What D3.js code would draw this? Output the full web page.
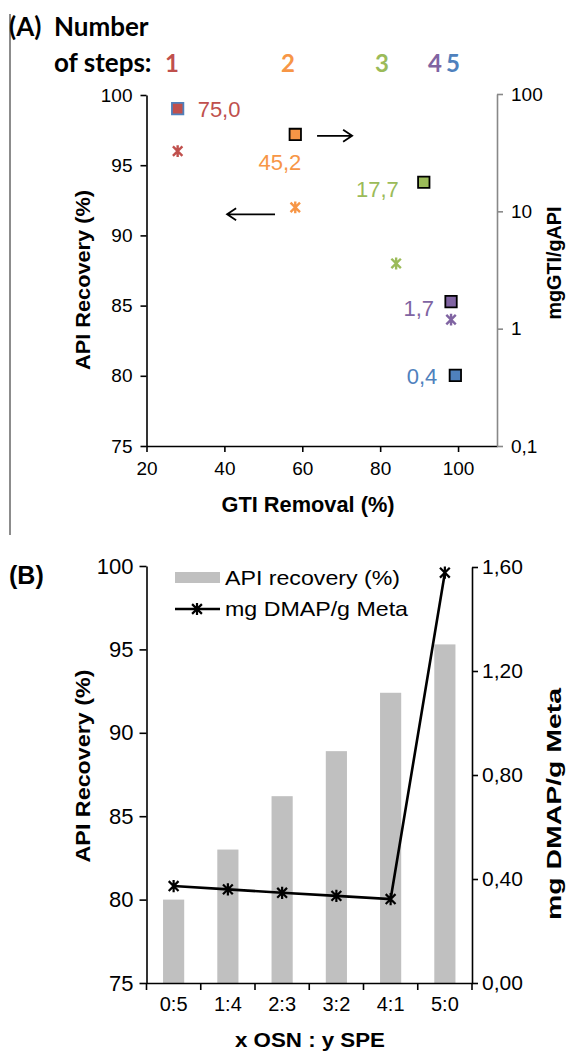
<!DOCTYPE html>
<html><head><meta charset="utf-8">
<script src="https://cdn.jsdelivr.net/npm/d3@7"></script>
<style>body{margin:0;background:#fff}svg{display:block}</style>
</head><body><svg id="c" width="568" height="1054"></svg>
<script>
// ---------- DATA (panel A) ----------
const steps = ["1","2","3","4","5"];
const stepColors = ["#c0504d","#f79646","#9bbb59","#8064a2","#4f81bd"];
const gtiRemovalRecovery = [28, 58.2, 84.1, 98.2, 99.3];   // x of star markers
const apiRecoveryA = [96, 92, 88, 84, 80];                 // left axis
const gtiRemovalLoad = [28, 58.2, 91.2, 98.2, 99.3];       // x of square markers
const mgGtiPerGApi = [75.0, 45.2, 17.7, 1.7, 0.4];         // right (log) axis
const mgGtiLabels = ["75,0","45,2","17,7","1,7","0,4"];
const xTicksA = [20,40,60,80,100];
const yTicksA = [75,80,85,90,95,100];
const yRightTicksA = [0.1,1,10,100];
const yRightTickLabelsA = ["0,1","1","10","100"];

// ---------- DATA (panel B) ----------
const ratios = ["0:5","1:4","2:3","3:2","4:1","5:0"];
const apiRecoveryB = [80.0, 83.0, 86.2, 88.9, 92.4, 95.3];
const mgDmapPerGMeta = [0.373, 0.360, 0.347, 0.335, 0.323, 1.578];
const yTicksB = [75,80,85,90,95,100];
const yRightTicksB = [0,0.4,0.8,1.2,1.6];
const yRightTickLabelsB = ["0,00","0,40","0,80","1,20","1,60"];

// ---------- DRAW ----------
const svg = d3.select("#c");
const AR = "'Liberation Sans', Arial, sans-serif";
const HDR = "Lato, 'Open Sans', sans-serif";

const starSym = { draw(ctx, size){ const r=Math.sqrt(size)/2, d=r*0.8;
  ctx.moveTo(0,-r); ctx.lineTo(0,r); ctx.moveTo(-d,-d); ctx.lineTo(d,d); ctx.moveTo(-d,d); ctx.lineTo(d,-d);} };

function styleAxis(g, color, fs){
  g.select(".domain").attr("stroke", color).attr("stroke-width", 1.6);
  g.selectAll(".tick line").attr("stroke", color).attr("stroke-width", 1.6);
  g.selectAll(".tick text").attr("fill","#000").style("font-family", AR).style("font-size", fs+"px");
}

// left border line
svg.append("line").attr("x1",10).attr("x2",10).attr("y1",14).attr("y2",535)
  .attr("stroke","#666").attr("stroke-width",1.5);

// header
svg.append("text").attr("x",9).attr("y",36).text("(A)")
  .style("font-family",HDR).style("font-weight","bold").style("font-size","26px");
svg.append("text").attr("x",54).attr("y",36).text("Number")
  .style("font-family",HDR).style("font-weight","bold").style("font-size","26px");
svg.append("text").attr("x",54).attr("y",72).text("of steps:")
  .style("font-family",HDR).style("font-weight","bold").style("font-size","26px");
const headerX = [172,288,382,435,453];
svg.selectAll(".hd").data(steps).join("text").attr("class","hd")
  .attr("x",(d,i)=>headerX[i]).attr("y",72).attr("text-anchor","middle")
  .attr("fill",(d,i)=>stepColors[i]).text(d=>d)
  .style("font-family",HDR).style("font-weight","bold").style("font-size","24px");

// scales A
const xA = d3.scaleLinear().domain([20,110]).range([146.5,497]);
const yAL = d3.scaleLinear().domain([75,100]).range([446,95]);
const yAR = d3.scaleLog().domain([0.1,100]).range([446,94]);

const gxA = svg.append("g").attr("transform","translate(0,446)")
  .call(d3.axisBottom(xA).tickValues(xTicksA).tickSize(6).tickSizeOuter(0).tickPadding(10));
styleAxis(gxA,"#000",19);
const gyAL = svg.append("g").attr("transform","translate(146.5,0)")
  .call(d3.axisLeft(yAL).tickValues(yTicksA).tickSize(6).tickSizeOuter(0).tickPadding(8));
styleAxis(gyAL,"#000",19);
const gyAR = svg.append("g").attr("transform","translate(497,0)")
  .call(d3.axisRight(yAR).tickValues(yRightTicksA).tickSize(6).tickSizeOuter(0).tickPadding(8)
    .tickFormat((d,i)=>yRightTickLabelsA[i]));
styleAxis(gyAR,"#888",19);

// axis titles A
svg.append("text").attr("transform","translate(90,280) rotate(-90)").attr("text-anchor","middle")
  .text("API Recovery (%)").attr("textLength",180).attr("lengthAdjust","spacingAndGlyphs")
  .style("font-family",AR).style("font-weight","bold").style("font-size","20px");
svg.append("text").attr("transform","translate(561,263) rotate(-90)").attr("text-anchor","middle")
  .text("mgGTI/gAPI").attr("textLength",113).attr("lengthAdjust","spacingAndGlyphs")
  .style("font-family",AR).style("font-weight","bold").style("font-size","20px");
svg.append("text").attr("x",308).attr("y",512).attr("text-anchor","middle")
  .text("GTI Removal (%)").attr("textLength",173).attr("lengthAdjust","spacingAndGlyphs")
  .style("font-family",AR).style("font-weight","bold").style("font-size","22px");

// stars (left axis)
const idx = d3.range(steps.length);
svg.selectAll(".starA").data(idx).join("path").attr("class","starA")
  .attr("transform",i=>`translate(${xA(gtiRemovalRecovery[i])},${yAL(apiRecoveryA[i])})`)
  .attr("d", d3.symbol().type(starSym).size(140)())
  .attr("fill","none").attr("stroke",i=>stepColors[i]).attr("stroke-width",2.4);
// squares (right axis)
const sqStroke = ["#4f81bd","#000","#000","#000","#000"];
svg.selectAll(".sqA").data(idx).join("path").attr("class","sqA")
  .attr("transform",i=>`translate(${xA(gtiRemovalLoad[i])},${yAR(mgGtiPerGApi[i])})`)
  .attr("d", d3.symbol().type(d3.symbolSquare).size(130)())
  .attr("fill",i=>stepColors[i]).attr("stroke",i=>sqStroke[i]).attr("stroke-width",1.8);
// value labels
const lblOff = [[20,8.5,"start"],[6,36,"end"],[-25,15,"end"],[-17,14,"end"],[-18,9,"end"]];
svg.selectAll(".lblA").data(idx).join("text").attr("class","lblA")
  .attr("x",i=>xA(gtiRemovalLoad[i])+lblOff[i][0])
  .attr("y",i=>yAR(mgGtiPerGApi[i])+lblOff[i][1])
  .attr("text-anchor",i=>lblOff[i][2]).attr("fill",i=>stepColors[i])
  .text(i=>mgGtiLabels[i]).style("font-family",AR).style("font-size","22px");

// arrows
function arrow(x1,x2,y){
  const dir = Math.sign(x2-x1);
  svg.append("path").attr("d",`M${x1},${y}H${x2}M${x2-dir*9},${y-6}L${x2},${y}L${x2-dir*9},${y+6}`)
    .attr("fill","none").attr("stroke","#000").attr("stroke-width",1.8);
}
arrow(xA(63.8), xA(72.8), yAR(44));
arrow(xA(53), xA(40.7), yAL(91.5));

// ---------- Panel B ----------
svg.append("text").attr("x",9).attr("y",584).text("(B)")
  .style("font-family",AR).style("font-weight","bold").style("font-size","25px");

const xB = d3.scaleBand().domain(ratios).range([146.5,472]).paddingInner(0).paddingOuter(0);
const yBL = d3.scaleLinear().domain([75,100]).range([983,566]);
const yBR = d3.scaleLinear().domain([0,1.6]).range([983,567]);
const cx = r => xB(r) + xB.bandwidth()/2;
const bw = xB.bandwidth()*0.39;

// bars
svg.selectAll(".bar").data(ratios).join("rect").attr("class","bar")
  .attr("x",r=>cx(r)-bw/2).attr("width",bw)
  .attr("y",(r,i)=>yBL(apiRecoveryB[i])).attr("height",(r,i)=>983-yBL(apiRecoveryB[i]))
  .attr("fill","#c0c0c0");

// axes B
const gxB = svg.append("g").attr("transform","translate(0,983)")
  .call(d3.axisBottom(xB).tickSize(0).tickPadding(14));
styleAxis(gxB,"#000",20);
// boundary ticks
svg.selectAll(".bt").data(ratios.slice(1).concat(["end"])).join("line").attr("class","bt")
  .attr("x1",(r)=> r==="end" ? 472 : xB(r)).attr("x2",(r)=> r==="end" ? 472 : xB(r))
  .attr("y1",983).attr("y2",990).attr("stroke","#000").attr("stroke-width",1.6);
svg.append("line").attr("x1",xB(ratios[0])).attr("x2",xB(ratios[0])).attr("y1",983).attr("y2",990)
  .attr("stroke","#000").attr("stroke-width",1.6);

const gyBL = svg.append("g").attr("transform","translate(146.5,0)")
  .call(d3.axisLeft(yBL).tickValues(yTicksB).tickSize(7).tickSizeOuter(0).tickPadding(6));
styleAxis(gyBL,"#000",22);
const gyBR = svg.append("g").attr("transform","translate(472,0)")
  .call(d3.axisRight(yBR).tickValues(yRightTicksB).tickSize(6).tickSizeOuter(0).tickPadding(4)
    .tickFormat((d,i)=>yRightTickLabelsB[i]));
styleAxis(gyBR,"#000",21);

// line series
const lineGen = d3.line().x((d,i)=>cx(ratios[i])).y(d=>yBR(d));
svg.append("path").datum(mgDmapPerGMeta).attr("d",lineGen)
  .attr("fill","none").attr("stroke","#000").attr("stroke-width",2.6);
svg.selectAll(".starB").data(mgDmapPerGMeta).join("path").attr("class","starB")
  .attr("transform",(d,i)=>`translate(${cx(ratios[i])},${yBR(d)})`)
  .attr("d", d3.symbol().type(starSym).size(150)())
  .attr("fill","none").attr("stroke","#000").attr("stroke-width",2.2);

// axis titles B
svg.append("text").attr("transform","translate(90,766) rotate(-90)").attr("text-anchor","middle")
  .text("API Recovery (%)").attr("textLength",193).attr("lengthAdjust","spacingAndGlyphs")
  .style("font-family",AR).style("font-weight","bold").style("font-size","21px");
svg.append("text").attr("transform","translate(561,804) rotate(-90)").attr("text-anchor","middle")
  .text("mg DMAP/g Meta").attr("textLength",232).attr("lengthAdjust","spacingAndGlyphs")
  .style("font-family",AR).style("font-weight","bold").style("font-size","21px");
svg.append("text").attr("x",310).attr("y",1047).attr("text-anchor","middle")
  .text("x OSN : y SPE").attr("textLength",150).attr("lengthAdjust","spacingAndGlyphs")
  .style("font-family",AR).style("font-weight","bold").style("font-size","21px");

// legend B
svg.append("rect").attr("x",175).attr("y",572).attr("width",45).attr("height",11).attr("fill","#c0c0c0");
svg.append("text").attr("x",225).attr("y",585).text("API recovery (%)")
  .attr("textLength",175).attr("lengthAdjust","spacingAndGlyphs")
  .style("font-family",AR).style("font-size","21px");
svg.append("line").attr("x1",175).attr("x2",220).attr("y1",609).attr("y2",609)
  .attr("stroke","#000").attr("stroke-width",2.6);
svg.append("path").attr("transform","translate(197,609)")
  .attr("d", d3.symbol().type(starSym).size(150)())
  .attr("fill","none").attr("stroke","#000").attr("stroke-width",2.2);
svg.append("text").attr("x",225).attr("y",616).text("mg DMAP/g Meta")
  .attr("textLength",183).attr("lengthAdjust","spacingAndGlyphs")
  .style("font-family",AR).style("font-size","21px");
</script></body></html>
